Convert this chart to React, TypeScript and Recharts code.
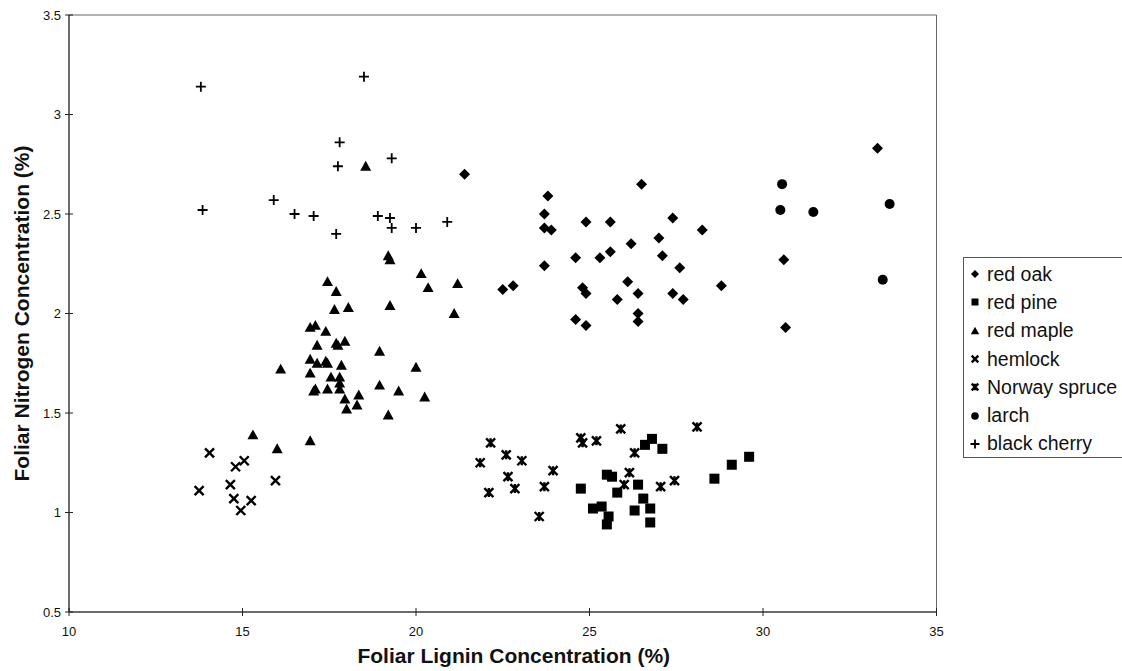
import { ScatterChart, Scatter, XAxis, YAxis, ReferenceArea, Legend } from 'recharts'

// Foliar lignin (%) vs foliar nitrogen (%) by species
const redOakLignin = [21.4, 26.5, 23.8, 23.7, 24.9, 25.6, 27.4, 23.7, 23.9, 27.0, 26.2, 27.1, 25.6, 25.3, 24.6, 23.7, 27.6, 26.1, 22.5, 22.8, 24.8, 24.9, 26.4, 25.8, 27.4, 27.7, 26.4, 26.4, 24.6, 24.9, 28.25, 33.3, 30.6, 28.8, 30.65]
const redOakNitrogen = [2.70, 2.65, 2.59, 2.50, 2.46, 2.46, 2.48, 2.43, 2.42, 2.38, 2.35, 2.29, 2.31, 2.28, 2.28, 2.24, 2.23, 2.16, 2.12, 2.14, 2.13, 2.10, 2.10, 2.07, 2.10, 2.07, 2.00, 1.96, 1.97, 1.94, 2.42, 2.83, 2.27, 2.14, 1.93]

const redPineLignin = [26.8, 26.6, 27.1, 29.6, 29.1, 28.6, 25.5, 25.65, 26.4, 24.75, 25.8, 26.55, 25.1, 25.35, 26.3, 26.75, 25.55, 25.5, 26.75]
const redPineNitrogen = [1.37, 1.34, 1.32, 1.28, 1.24, 1.17, 1.19, 1.18, 1.14, 1.12, 1.10, 1.07, 1.02, 1.03, 1.01, 1.02, 0.98, 0.94, 0.95]

const redMapleLignin = [18.55, 19.2, 19.25, 20.15, 20.35, 21.2, 17.45, 17.7, 17.65, 18.05, 19.25, 21.1, 16.95, 17.1, 17.4, 17.15, 17.7, 17.75, 17.95, 18.95, 16.95, 17.15, 17.4, 17.45, 17.85, 20.0, 16.1, 16.95, 17.55, 17.8, 17.8, 18.95, 17.1, 17.05, 17.45, 17.8, 19.5, 18.35, 20.25, 17.95, 18.3, 18.0, 19.2, 15.3, 16.95, 16.0]
const redMapleNitrogen = [2.74, 2.29, 2.27, 2.20, 2.13, 2.15, 2.16, 2.11, 2.02, 2.03, 2.04, 2.00, 1.93, 1.94, 1.91, 1.84, 1.85, 1.84, 1.86, 1.81, 1.77, 1.75, 1.76, 1.75, 1.74, 1.73, 1.72, 1.70, 1.68, 1.68, 1.65, 1.64, 1.62, 1.61, 1.62, 1.62, 1.61, 1.59, 1.58, 1.57, 1.54, 1.52, 1.49, 1.39, 1.36, 1.32]

const hemlockLignin = [14.05, 15.05, 14.8, 15.95, 14.65, 13.75, 14.75, 15.25, 14.95]
const hemlockNitrogen = [1.30, 1.26, 1.23, 1.16, 1.14, 1.11, 1.07, 1.06, 1.01]

const spruceLignin = [22.15, 22.6, 23.05, 21.85, 23.95, 22.65, 22.85, 23.7, 22.1, 23.55, 24.75, 24.8, 25.2, 25.9, 28.1, 26.3, 26.15, 26.0, 27.05, 27.45]
const spruceNitrogen = [1.35, 1.29, 1.26, 1.25, 1.21, 1.18, 1.12, 1.13, 1.10, 0.98, 1.375, 1.35, 1.36, 1.42, 1.43, 1.30, 1.20, 1.14, 1.13, 1.16]

const larchLignin = [30.55, 30.5, 31.45, 33.65, 33.45]
const larchNitrogen = [2.65, 2.52, 2.51, 2.55, 2.17]

const cherryLignin = [13.8, 18.5, 17.8, 17.75, 19.3, 13.85, 15.9, 16.5, 17.05, 18.9, 19.25, 19.3, 20.0, 20.9, 17.7]
const cherryNitrogen = [3.14, 3.19, 2.86, 2.74, 2.78, 2.52, 2.57, 2.50, 2.49, 2.49, 2.48, 2.43, 2.43, 2.46, 2.40]

const xTicks = [10, 15, 20, 25, 30, 35]
const yTicks = [0.5, 1, 1.5, 2, 2.5, 3, 3.5]

const zip = (xs: number[], ys: number[]) => xs.map((x, i) => ({ lignin: x, nitrogen: ys[i] }))

const font = '"Liberation Sans", Arial, sans-serif'

const Diamond = ({ cx, cy, s = 5.5 }: any) => (
  <path d={`M${cx},${cy - s}L${cx + s},${cy}L${cx},${cy + s}L${cx - s},${cy}Z`} fill="#000" />
)
const Square = ({ cx, cy, s = 5 }: any) => <rect x={cx - s} y={cy - s} width={s * 2} height={s * 2} fill="#000" />
const Triangle = ({ cx, cy, s = 5.5 }: any) => (
  <path d={`M${cx},${cy - s}L${cx + s},${cy + s * 0.8}L${cx - s},${cy + s * 0.8}Z`} fill="#000" />
)
const Cross = ({ cx, cy, s = 4.5 }: any) => (
  <path d={`M${cx - s},${cy - s}L${cx + s},${cy + s}M${cx + s},${cy - s}L${cx - s},${cy + s}`} stroke="#000" strokeWidth={2.4} />
)
const Star = ({ cx, cy, s = 4.5 }: any) => (
  <path
    d={`M${cx - s},${cy - s}L${cx + s},${cy + s}M${cx + s},${cy - s}L${cx - s},${cy + s}M${cx},${cy - s}L${cx},${cy + s}`}
    stroke="#000"
    strokeWidth={2.4}
  />
)
const Dot = ({ cx, cy, s = 5 }: any) => <circle cx={cx} cy={cy} r={s} fill="#000" />
const Plus = ({ cx, cy, s = 5 }: any) => (
  <path d={`M${cx - s},${cy}L${cx + s},${cy}M${cx},${cy - s}L${cx},${cy + s}`} stroke="#000" strokeWidth={1.8} />
)

const series = [
  { name: 'red oak', data: zip(redOakLignin, redOakNitrogen), Shape: Diamond, ls: 4 },
  { name: 'red pine', data: zip(redPineLignin, redPineNitrogen), Shape: Square, ls: 3.5 },
  { name: 'red maple', data: zip(redMapleLignin, redMapleNitrogen), Shape: Triangle, ls: 4.2 },
  { name: 'hemlock', data: zip(hemlockLignin, hemlockNitrogen), Shape: Cross, ls: 3.3 },
  { name: 'Norway spruce', data: zip(spruceLignin, spruceNitrogen), Shape: Star, ls: 3.3 },
  { name: 'larch', data: zip(larchLignin, larchNitrogen), Shape: Dot, ls: 3.8 },
  { name: 'black cherry', data: zip(cherryLignin, cherryNitrogen), Shape: Plus, ls: 4.5 },
]

const YTick = ({ x, y, payload }: any) => (
  <g>
    <line x1={x - 4} x2={x + 4} y1={y} y2={y} stroke="#222" />
    <text x={x - 8} y={y} dy={4.5} textAnchor="end" fontFamily={font} fontSize={13} fill="#111">
      {payload.value}
    </text>
  </g>
)

const XTick = ({ x, y, payload }: any) => (
  <g>
    <line x1={x} x2={x} y1={y - 4} y2={y + 4} stroke="#222" />
    <text x={x} y={y + 24} textAnchor="middle" fontFamily={font} fontSize={13} fill="#111">
      {payload.value}
    </text>
  </g>
)

const LegendBox = () => (
  <div
    style={{
      border: '1px solid #555',
      width: 170,
      height: 201,
      boxSizing: 'border-box',
      paddingTop: 2,
      fontFamily: font,
      fontSize: 19.5,
      color: '#111',
    }}
  >
    {series.map(({ name, Shape, ls }) => (
      <div key={name} style={{ height: 28.3, display: 'flex', alignItems: 'center', whiteSpace: 'nowrap' }}>
        <svg width={18} height={14} style={{ marginLeft: 2, flexShrink: 0 }}>
          <Shape cx={9} cy={7} s={ls} />
        </svg>
        <span style={{ marginLeft: 3 }}>{name}</span>
      </div>
    ))}
  </div>
)

export default function App() {
  return (
    <div style={{ position: 'absolute', left: 0, top: 0, width: 1122, height: 671, overflow: 'hidden', background: '#fff' }}>
      <ScatterChart width={1122} height={671} margin={{ top: 15, right: 15.5, bottom: 0, left: 0 }}>
        <ReferenceArea x1={10} x2={35} y1={0.5} y2={3.5} fill="none" stroke="#666" strokeWidth={1} />
        <XAxis
          type="number"
          dataKey="lignin"
          domain={[10, 35]}
          ticks={xTicks}
          height={59}
          tickSize={0}
          tickMargin={0}
          tickLine={false}
          tick={<XTick />}
          axisLine={{ stroke: '#222' }}
          label={{
            content: ({ viewBox }: any) => (
              <text
                x={viewBox.x + viewBox.width / 2 + 11}
                y={viewBox.y + 51}
                textAnchor="middle"
                fontFamily={font}
                fontWeight="bold"
                fontSize={21}
                fill="#111"
              >
                Foliar Lignin Concentration (%)
              </text>
            ),
          }}
        />
        <YAxis
          type="number"
          dataKey="nitrogen"
          domain={[0.5, 3.5]}
          ticks={yTicks}
          width={69}
          tickSize={0}
          tickMargin={0}
          tickLine={false}
          tick={<YTick />}
          axisLine={{ stroke: '#222' }}
          label={{
            content: ({ viewBox }: any) => {
              const cx = viewBox.x + 29
              const cy = viewBox.y + viewBox.height / 2
              return (
                <text
                  x={cx}
                  y={cy}
                  transform={`rotate(-90 ${cx} ${cy})`}
                  textAnchor="middle"
                  fontFamily={font}
                  fontWeight="bold"
                  fontSize={21}
                  fill="#111"
                >
                  Foliar Nitrogen Concentration (%)
                </text>
              )
            },
          }}
        />
        {series.map(({ name, data, Shape }) => (
          <Scatter key={name} name={name} data={data} isAnimationActive={false} shape={(p: any) => <Shape cx={p.cx} cy={p.cy} />} />
        ))}
        <Legend
          layout="vertical"
          align="right"
          verticalAlign="middle"
          content={<LegendBox />}
          wrapperStyle={{ position: 'absolute', left: 963, top: 257, width: 170, height: 201 }}
        />
      </ScatterChart>
    </div>
  )
}
